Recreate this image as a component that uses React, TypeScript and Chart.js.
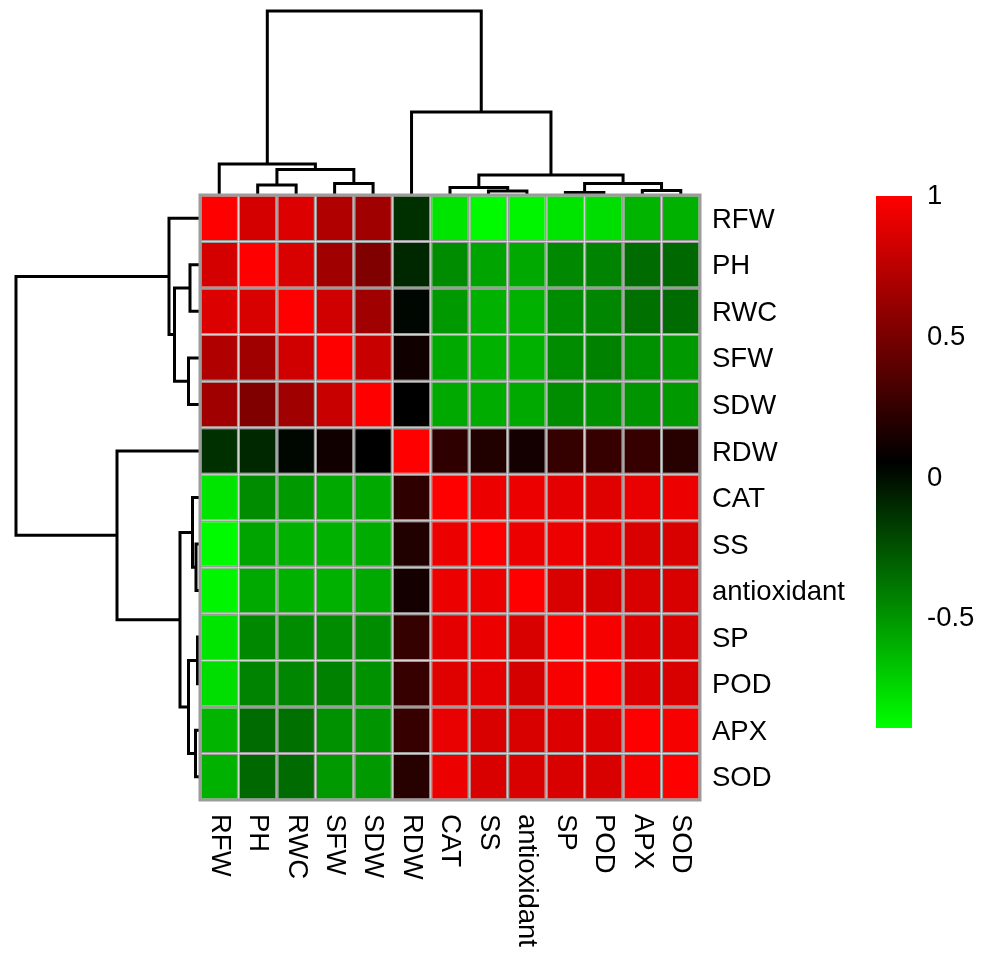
import React, { useEffect, useRef } from "react";
import { Chart, registerables } from "chart.js";

Chart.register(...registerables);

// ---------- data ----------
const rowLabels = ["RFW", "PH", "RWC", "SFW", "SDW", "RDW", "CAT", "SS", "antioxidant", "SP", "POD", "APX", "SOD"];
const colLabels = ["RFW", "PH", "RWC", "SFW", "SDW", "RDW", "CAT", "SS", "antioxidant", "SP", "POD", "APX", "SOD"];

const corrRFW = [1, 0.84, 0.87, 0.71, 0.65, -0.12, -0.79, -0.87, -0.85, -0.79, -0.76, -0.61, -0.6];
const corrPH = [0.84, 1, 0.86, 0.65, 0.53, -0.09, -0.46, -0.55, -0.57, -0.45, -0.43, -0.34, -0.33];
const corrRWC = [0.87, 0.86, 1, 0.83, 0.65, 0.03, -0.51, -0.6, -0.6, -0.46, -0.44, -0.36, -0.34];
const corrSFW = [0.71, 0.65, 0.83, 1, 0.8, 0.12, -0.57, -0.6, -0.6, -0.46, -0.42, -0.48, -0.51];
const corrSDW = [0.65, 0.53, 0.65, 0.8, 1, 0.06, -0.57, -0.58, -0.57, -0.46, -0.48, -0.49, -0.51];
const corrRDW = [-0.12, -0.09, 0.03, 0.12, 0.06, 1, 0.23, 0.18, 0.13, 0.25, 0.26, 0.26, 0.2];
const corrCAT = [-0.79, -0.46, -0.51, -0.57, -0.57, 0.23, 1, 0.93, 0.93, 0.9, 0.88, 0.92, 0.93];
const corrSS = [-0.87, -0.55, -0.6, -0.6, -0.58, 0.18, 0.93, 1, 0.93, 0.93, 0.9, 0.86, 0.86];
const corrAntioxidant = [-0.85, -0.57, -0.6, -0.6, -0.57, 0.13, 0.93, 0.93, 1, 0.86, 0.84, 0.86, 0.86];
const corrSP = [-0.79, -0.45, -0.46, -0.46, -0.46, 0.25, 0.9, 0.93, 0.86, 1, 0.97, 0.87, 0.86];
const corrPOD = [-0.76, -0.43, -0.44, -0.42, -0.48, 0.26, 0.88, 0.9, 0.84, 0.97, 1, 0.87, 0.86];
const corrAPX = [-0.61, -0.34, -0.36, -0.48, -0.49, 0.26, 0.92, 0.86, 0.86, 0.87, 0.87, 1, 0.97];
const corrSOD = [-0.6, -0.33, -0.34, -0.51, -0.51, 0.2, 0.93, 0.86, 0.86, 0.86, 0.86, 0.97, 1];

const corrMatrix = [corrRFW, corrPH, corrRWC, corrSFW, corrSDW, corrRDW, corrCAT, corrSS, corrAntioxidant, corrSP, corrPOD, corrAPX, corrSOD];

// hierarchical clustering (same tree for rows and columns); "mK" = K-th merge
const mergeLeft = ["PH", "SFW", "m1", "RFW", "SS", "CAT", "SP", "APX", "m7", "m6", "RDW", "m4"];
const mergeRight = ["RWC", "SDW", "m2", "m3", "antioxidant", "m5", "POD", "SOD", "m8", "m9", "m10", "m11"];
const mergeHeight = [0.1, 0.115, 0.255, 0.31, 0.04, 0.075, 0.025, 0.045, 0.115, 0.2, 0.83, 1.84];

// colour scale
const scaleMin = -0.887;
const scaleMax = 1;
const legendTicks = [-0.5, 0, 0.5, 1];

// ---------- styles / layout ----------
const FONT = "'Liberation Sans', Arial, sans-serif";
const FONT_SIZE = 27.5;
const GRID_COLOR = "#9c9c9c";
const TOP_DENDRO_UNITS_PER_HEIGHT = 100 / 46.54; // height unit -> row units
const LEFT_DENDRO_UNITS_PER_HEIGHT = 100 / 38.46; // height unit -> column units

function colorFor(v: number): string {
  let t = (v - scaleMin) / (scaleMax - scaleMin);
  t = Math.max(0, Math.min(1, t));
  if (t < 0.5) {
    const g = Math.round(255 * (1 - 2 * t));
    return `rgb(0,${g},0)`;
  }
  const r = Math.round(255 * (2 * t - 1));
  return `rgb(${r},0,0)`;
}

type Node = { pos: number; h: number };

function resolveNode(name: string, labels: string[], cache: Record<string, Node>): Node {
  if (cache[name]) return cache[name];
  let node: Node;
  if (/^m\d+$/.test(name)) {
    const k = parseInt(name.slice(1), 10) - 1;
    const l = resolveNode(mergeLeft[k], labels, cache);
    const r = resolveNode(mergeRight[k], labels, cache);
    node = { pos: (l.pos + r.pos) / 2, h: mergeHeight[k] };
  } else {
    node = { pos: labels.indexOf(name) + 0.5, h: 0 };
  }
  cache[name] = node;
  return node;
}

function dendroDatasets(labels: string[], side: "top" | "left") {
  const cache: Record<string, Node> = {};
  const sets: any[] = [];
  for (let k = 0; k < mergeHeight.length; k++) {
    const l = resolveNode(mergeLeft[k], labels, cache);
    const r = resolveNode(mergeRight[k], labels, cache);
    const h = mergeHeight[k];
    let data;
    if (side === "top") {
      const f = TOP_DENDRO_UNITS_PER_HEIGHT;
      data = [
        { x: l.pos, y: -l.h * f },
        { x: l.pos, y: -h * f },
        { x: r.pos, y: -h * f },
        { x: r.pos, y: -r.h * f },
      ];
    } else {
      const f = LEFT_DENDRO_UNITS_PER_HEIGHT;
      data = [
        { x: -l.h * f, y: l.pos },
        { x: -h * f, y: l.pos },
        { x: -h * f, y: r.pos },
        { x: -r.h * f, y: r.pos },
      ];
    }
    sets.push({
      type: "line",
      data,
      borderColor: "#000000",
      borderWidth: 3,
      pointRadius: 0,
      pointHoverRadius: 0,
      tension: 0,
      fill: false,
      clip: false,
      borderJoinStyle: "miter",
      borderCapStyle: "butt",
    });
  }
  return sets;
}

const heatmapExtras = {
  id: "heatmapExtras",
  afterDatasetsDraw(chart: any) {
    const { ctx } = chart;
    const x = chart.scales.x;
    const y = chart.scales.y;
    const left = x.getPixelForValue(0);
    const right = x.getPixelForValue(colLabels.length);
    const top = y.getPixelForValue(0);
    const bottom = y.getPixelForValue(rowLabels.length);
    ctx.save();
    ctx.strokeStyle = GRID_COLOR;
    ctx.lineWidth = 3;
    ctx.strokeRect(left, top, right - left, bottom - top);
    ctx.fillStyle = "#000000";
    ctx.font = `${FONT_SIZE}px ${FONT}`;
    ctx.textAlign = "left";
    ctx.textBaseline = "middle";
    colLabels.forEach((lab, i) => {
      const px = x.getPixelForValue(i + 0.5);
      ctx.save();
      ctx.translate(px, bottom + 14);
      ctx.rotate(Math.PI / 2);
      ctx.fillText(lab, 0, 0);
      ctx.restore();
    });
    ctx.restore();
  },
};

export default function App() {
  const mainRef = useRef<HTMLCanvasElement>(null);
  const legRef = useRef<HTMLCanvasElement>(null);

  useEffect(() => {
    const cells: any[] = [];
    corrMatrix.forEach((row, r) => {
      row.forEach((v, c) => {
        cells.push({ x: c + 0.5, y: [r, r + 1], v });
      });
    });

    const colUnit = 500 / 13;
    const rowUnit = 605 / 13;

    const main = new Chart(mainRef.current!, {
      type: "bar",
      data: {
        datasets: [
          {
            type: "bar",
            data: cells as any,
            backgroundColor: (ctx: any) => colorFor(ctx.raw ? ctx.raw.v : 0),
            borderColor: GRID_COLOR,
            borderWidth: 1.5,
            borderSkipped: false,
            inflateAmount: 0,
            barPercentage: 1,
            categoryPercentage: 1,
          } as any,
          ...dendroDatasets(colLabels, "top"),
          ...dendroDatasets(rowLabels, "left"),
        ],
      },
      options: {
        responsive: false,
        animation: false,
        events: [],
        layout: {
          autoPadding: false,
          padding: { left: 200 - 5 * colUnit, top: 195 - 4 * rowUnit, right: 0, bottom: 154 },
        },
        plugins: { legend: { display: false }, tooltip: { enabled: false } },
        scales: {
          x: {
            type: "linear",
            min: -5,
            max: 13,
            offset: false,
            display: false,
            afterBuildTicks: (axis: any) => {
              axis.ticks = colLabels.map((_, i) => ({ value: i + 0.5 }));
            },
          },
          y: {
            type: "linear",
            position: "right",
            reverse: true,
            min: -4,
            max: 13,
            offset: false,
            grid: { display: false, drawTicks: false },
            border: { display: false },
            afterBuildTicks: (axis: any) => {
              axis.ticks = rowLabels.map((_, i) => ({ value: i + 0.5 }));
            },
            afterFit: (axis: any) => {
              axis.width = 281;
              axis.paddingTop = 0;
              axis.paddingBottom = 0;
            },
            ticks: {
              autoSkip: false,
              padding: 12,
              labelOffset: 2,
              color: "#000000",
              font: { family: FONT, size: FONT_SIZE, lineHeight: 0.01 },
              callback: (_v: any, i: number) => rowLabels[i],
            },
          },
        },
      } as any,
      plugins: [heatmapExtras],
    });

    const legend = new Chart(legRef.current!, {
      type: "bar",
      data: {
        labels: ["scale"],
        datasets: [
          {
            data: [[scaleMin, scaleMax]] as any,
            backgroundColor: (ctx: any) => {
              const chart = ctx.chart;
              if (!chart.chartArea) return "#000000";
              const ys = chart.scales.y;
              const g = chart.ctx.createLinearGradient(0, ys.getPixelForValue(scaleMin), 0, ys.getPixelForValue(scaleMax));
              g.addColorStop(0, "#00FF00");
              g.addColorStop(0.5, "#000000");
              g.addColorStop(1, "#FF0000");
              return g;
            },
            borderWidth: 0,
            barPercentage: 1,
            categoryPercentage: 1,
          },
        ],
      },
      options: {
        responsive: false,
        animation: false,
        events: [],
        layout: { autoPadding: false, padding: { left: 16, top: 196, right: 0, bottom: 226 } },
        plugins: { legend: { display: false }, tooltip: { enabled: false } },
        scales: {
          x: { type: "category", display: false },
          y: {
            type: "linear",
            position: "right",
            min: scaleMin,
            max: scaleMax,
            grid: { display: false, drawTicks: false },
            border: { display: false },
            afterBuildTicks: (axis: any) => {
              axis.ticks = legendTicks.map((v) => ({ value: v }));
            },
            afterFit: (axis: any) => {
              axis.width = 69;
            },
            ticks: {
              padding: 15,
              color: "#000000",
              font: { family: FONT, size: FONT_SIZE },
              callback: (v: any) => String(v),
            },
          },
        },
      } as any,
    });

    return () => {
      main.destroy();
      legend.destroy();
    };
  }, []);

  return (
    <div style={{ position: "absolute", left: 0, top: 0, width: 981, height: 954, background: "#ffffff" }}>
      <canvas ref={mainRef} width={981} height={954} style={{ position: "absolute", left: 0, top: 0 }} />
      <canvas ref={legRef} width={121} height={954} style={{ position: "absolute", left: 860, top: 0 }} />
    </div>
  );
}
